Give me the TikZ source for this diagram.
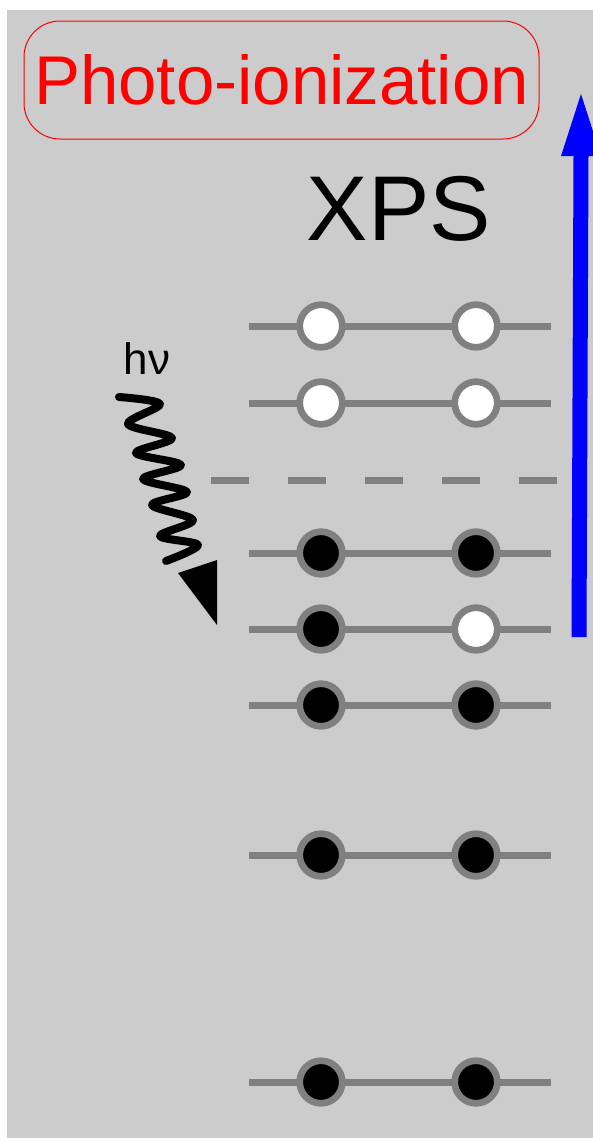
\documentclass[tikz,border=0pt]{standalone}
\usepackage{fontspec}
\setmainfont{Liberation Sans}
\definecolor{bggray}{HTML}{CCCCCC}
\definecolor{lvlgray}{HTML}{808080}
\tikzset{
  level/.style={draw=lvlgray, line width=7},
  occ/.style={circle, draw=lvlgray, line width=6.7, fill=black, minimum size=42.6, inner sep=0},
  hole/.style={occ, fill=white},
  dashlevel/.style={draw=lvlgray, line width=7, dash pattern=on 38 off 39},
}
\begin{document}
\begin{tikzpicture}[x=1pt, y=-1pt]
\useasboundingbox (0,0) rectangle (593,1138);
\fill[bggray] (7,10) rectangle (600,1145);
% title
\node[draw=red, line width=1, rounded corners=36, minimum width=515, minimum height=118, inner sep=0] (titlebox) at (281.5,80) {};
\node[text=red, font=\fontsize{69}{69}\selectfont, anchor=base] (title) at (281.5,104) {Photo-ionization};
\node[font=\fontsize{92}{92}\selectfont, anchor=base] (xps) at (399,240) {XPS};
\node[font=\fontsize{44}{44}\selectfont, anchor=base] (hnu) at (147,374) {hν};
% levels
\foreach \n/\y/\a/\b in {1/326/hole/hole, 2/403/hole/hole, 3/553/occ/occ, 4/629/occ/hole, 5/705/occ/occ, 6/855/occ/occ, 7/1082/occ/occ}{
  \coordinate (L\n) at (249,\y);
  \coordinate (R\n) at (551,\y);
  \draw[level] (L\n) -- (R\n);
  \node[\a] (a\n) at (321,\y) {};
  \node[\b] (b\n) at (476,\y) {};
}
% dashed (vacuum) level
\coordinate (dL) at (211,480);
\coordinate (dR) at (560,480);
\draw[dashlevel] (dL) -- (dR);
% photon
\draw[line width=8, line cap=round, line join=round] plot[smooth, tension=0.55] coordinates {(119,397) (160,404) (128,424) (172,438) (136,453) (181,465) (143,479) (187,492) (152,505) (193,520) (160,536) (198,545) (166,561)};
\fill (178,573) -- (217,560) -- (217,625) -- cycle;
% blue arrow
\fill[blue] (571.5,637) -- (586.5,637) -- (588.5,156) -- (601,156) -- (581,94) -- (561,156) -- (573.5,156) -- cycle;
\end{tikzpicture}
\end{document}
